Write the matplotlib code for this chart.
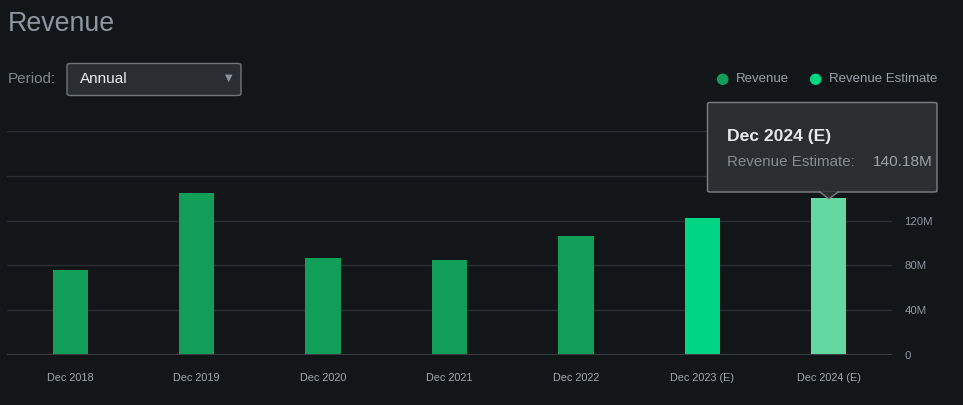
import matplotlib
matplotlib.use("Agg")
import matplotlib.pyplot as plt
from matplotlib.patches import FancyBboxPatch, Polygon
import numpy as np

plt.rcParams['font.family'] = ['Liberation Sans', 'DejaVu Sans']

categories = ["Dec 2018", "Dec 2019", "Dec 2020", "Dec 2021", "Dec 2022", "Dec 2023 (E)", "Dec 2024 (E)"]
revenue = [75.8, 144.5, 86.6, 84.8, 106.3, None, None]
revenue_estimate = [None, None, None, None, None, 122.0, 140.18]
yticks = [0, 40, 80, 120]
ytick_labels = ["0", "40M", "80M", "120M"]

W, H = 963, 405
BG = "#131619"
C_REV = "#109e58"
C_EST = "#00d583"
C_HL = "#63d9a1"

fig = plt.figure(figsize=(W / 100, H / 100), dpi=100, facecolor=BG)

def fx(px):
    return px / W

def fy(py):
    return 1 - py / H

ax = fig.add_axes([fx(7), fy(355), fx(892) - fx(7), fy(131) - fy(355)])
ax.set_facecolor(BG)
x = np.arange(len(categories))
bw = 0.28
for i in range(len(categories)):
    if revenue[i] is not None:
        ax.bar(x[i], revenue[i], width=bw, color=C_REV, zorder=3)
    if revenue_estimate[i] is not None:
        col = C_HL if i == len(categories) - 1 else C_EST
        ax.bar(x[i], revenue_estimate[i], width=bw, color=col, zorder=3)
ax.set_xlim(-0.5, len(categories) - 0.5)
ax.set_ylim(0, 200)
for g in [40, 80, 120, 160, 200]:
    ax.axhline(g, color="#2a2e33", lw=1, zorder=1)
ax.axhline(0, color="#3a3e43", lw=1.5, zorder=4)
for s in ax.spines.values():
    s.set_visible(False)
ax.yaxis.tick_right()
ax.set_yticks(yticks)
ax.set_yticklabels(ytick_labels)
for lbl in ax.get_yticklabels():
    lbl.set_va("top")
    lbl.set_y(0)
ax.set_xticks(x)
ax.set_xticklabels(categories)
ax.tick_params(axis='y', length=0, pad=9, labelsize=8.2, labelcolor="#8d959d")
ax.tick_params(axis='x', length=0, pad=13, labelsize=7.8, labelcolor="#a2a8ae")
for lbl in ax.get_yticklabels():
    lbl.set_va("center_baseline")

# Title
fig.text(fx(8), fy(24), "Revenue", fontsize=19.3, color="#8e979f", va="center", ha="left")
# Period selector
fig.text(fx(8), fy(79), "Period:", fontsize=11, color="#7f868c", va="center", ha="left")
box = FancyBboxPatch((fx(67), fy(95.5)), fx(241) - fx(67), fy(63.5) - fy(95.5),
                     boxstyle="round,pad=0,rounding_size=0.004", transform=fig.transFigure,
                     facecolor="#2a2d31", edgecolor="#70757a", lw=1.0)
fig.patches.append(box)
fig.text(fx(80), fy(79), "Annual", fontsize=11, color="#e9ecef", va="center", ha="left")
fig.text(fx(229), fy(78), "\u25bc", fontsize=7, color="#8d9399", va="center", ha="center",
         family=['DejaVu Sans'])

# Legend
for cx, col, lab in [(722, C_REV, "Revenue"), (815, C_EST, "Revenue Estimate")]:
    fig.text(fx(cx), fy(78.5), "\u25cf", fontsize=11, color=col, va="center", ha="center",
             family=['DejaVu Sans'])
    fig.text(fx(cx + 14), fy(79), lab, fontsize=9.5, color="#9aa1a8", va="center", ha="left")

# Tooltip
tip = FancyBboxPatch((fx(707.5), fy(192)), fx(937) - fx(707.5), fy(102.5) - fy(192),
                     boxstyle="round,pad=0,rounding_size=0.003", transform=fig.transFigure,
                     facecolor="#2b2e31", edgecolor="#7c8085", lw=1.0, zorder=10)
fig.patches.append(tip)
tri = Polygon([(fx(820), fy(191.3)), (fx(838), fy(191.3)), (fx(829), fy(199))], closed=True,
              transform=fig.transFigure, facecolor="#2b2e31", edgecolor="none", zorder=11)
fig.patches.append(tri)
fig.lines.append(plt.Line2D([fx(820), fx(829), fx(838)], [fy(192), fy(199), fy(192)],
                            transform=fig.transFigure, color="#7c8085", lw=1.0, zorder=12))
fig.text(fx(727), fy(135), "Dec 2024 (E)", fontsize=12.6, fontweight="bold", color="#e6e8ea",
         va="center_baseline", ha="left", zorder=13)
fig.text(fx(727), fy(160.5), "Revenue Estimate:", fontsize=10.9, color="#868c92",
         va="center_baseline", ha="left", zorder=13)
fig.text(fx(873), fy(160.5), "140.18M", fontsize=11.1, color="#9ba1a7",
         va="center_baseline", ha="left", zorder=13)

fig.savefig("out.png", dpi=100, facecolor=BG)
